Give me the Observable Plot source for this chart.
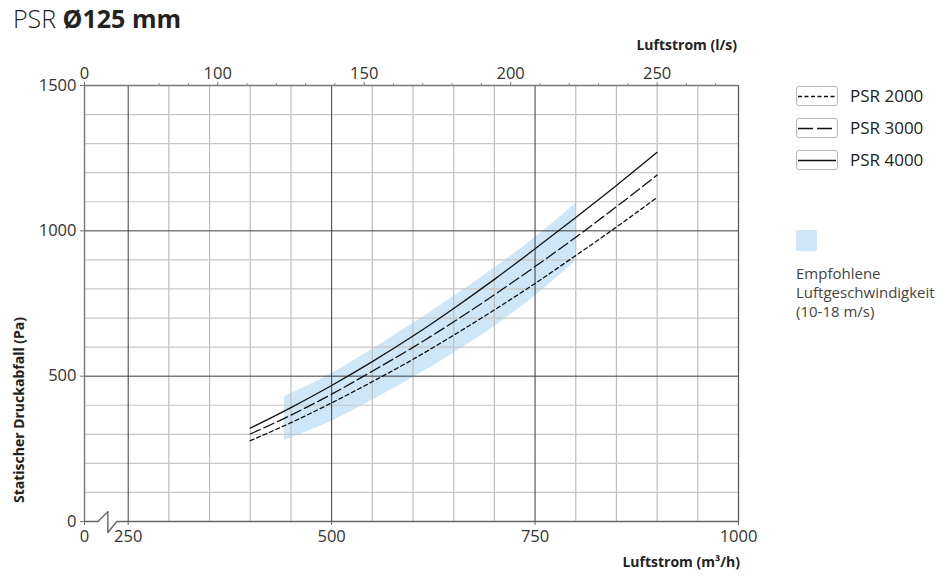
<!DOCTYPE html>
<html><head><meta charset="utf-8">
<script src="https://cdn.jsdelivr.net/npm/d3@7"></script>
<script src="https://cdn.jsdelivr.net/npm/@observablehq/plot@0.6"></script>
<style>
body{margin:0;background:#fff;font-family:"Open Sans",sans-serif;color:#222}
#wrap{position:relative;width:942px;height:587px;overflow:hidden;background:#fff}
#chart{position:absolute;left:0;top:0}
.abs{position:absolute;white-space:nowrap}
.bold{font-weight:700;font-size:14px;color:#222}
.lg{position:absolute;left:796px;width:42px;height:20px;border:1px solid #bbb;border-radius:3px;box-sizing:border-box;background:#fff}
.lgt{position:absolute;left:850px;font-size:17px;line-height:22px;color:#222}
</style></head><body>
<div id="wrap">
  <div id="chart"></div>
  <div class="abs" style="left:13px;top:0px;font-size:25px;line-height:36px;color:#222"><span style="font-weight:300">PSR </span><b>Ø125 mm</b></div>
  <div class="abs bold" style="right:205px;top:35px">Luftstrom (l/s)</div>
  <div class="abs bold" style="right:202px;top:552px">Luftstrom (m³/h)</div>
  <div class="abs bold" style="left:18px;top:410px;transform:translate(-50%,-50%) rotate(-90deg)">Statischer Druckabfall (Pa)</div>
  <div id="legend"></div>
  <div class="abs" style="left:796px;top:230px;width:21px;height:21px;background:#cde7f8;border-radius:2px"></div>
  <div class="abs" style="left:796px;top:264px;font-size:15px;line-height:19px;color:#444">Empfohlene<br>Luftgeschwindigkeit<br>(10-18 m/s)</div>
</div>
<script>
// ---- data ----
const flow = [400, 450, 500, 550, 600, 650, 700, 750, 800, 850, 900];
const psr2000 = [278, 340, 408, 481, 558, 641, 728, 819, 915, 1013, 1115];
const psr3000 = [301, 366, 438, 517, 599, 687, 780, 877, 978, 1083, 1192];
const psr4000 = [321, 392, 468, 550, 638, 733, 833, 938, 1046, 1156, 1270];
const seriesNames = ["PSR 2000", "PSR 3000", "PSR 4000"];

const bandFlow = [442, 500, 550, 600, 650, 700, 750, 800];
const bandLow  = [279, 345, 417, 495, 579, 671, 776, 896];
const bandHigh = [429, 509, 593, 681, 774, 872, 977, 1094];

const xStart = 196.3;              // position of the broken-axis "0"
const xTicksBottom = [250, 500, 750, 1000];
const yTicks = [0, 500, 1000, 1500];
const lsTicks = [0, 100, 150, 200, 250];
const lsMinor = [80, 90, 110, 120, 130, 140, 160, 170, 180, 190, 210, 220, 230, 240, 260, 270];
const gridXMinor = [300, 350, 400, 450, 550, 600, 650, 700, 800, 850, 900, 950];
const gridXMajor = [250, 500, 750];
const gridYMinor = [100, 200, 300, 400, 600, 700, 800, 900, 1100, 1200, 1300, 1400];
const gridYMajor = [500, 1000];
const breakX = [xStart, 213, 225, 225, 236, 1000];
const breakY = [0, 0, 34, -38, 0, 0];

// ---- styles ----
const dashes = {"PSR 2000": "4,3", "PSR 3000": "11,4", "PSR 4000": null};
const ink = "#111";

// ---- derived tables ----
const valuesBy = {"PSR 2000": psr2000, "PSR 3000": psr3000, "PSR 4000": psr4000};
const lineRows = seriesNames.map(n => flow.map((f, i) => ({flow: f, pa: valuesBy[n][i], series: n})));
const bandRows = bandFlow.map((f, i) => ({flow: f, low: bandLow[i], high: bandHigh[i]}));
const breakRows = breakX.map((x, i) => ({x, y: breakY[i]}));
const lsToM3h = v => v === 0 ? xStart : v * 3.6;
const lsPos = lsTicks.map(lsToM3h);
const lsLabel = new Map(lsTicks.map(v => [lsToM3h(v), String(v)]));
const bottomPos = [xStart, ...xTicksBottom];
const bottomLabel = new Map([[xStart, "0"], ...xTicksBottom.map(v => [v, String(v)])]);

const chart = Plot.plot({
  width: 942,
  height: 587,
  marginLeft: 84,
  marginRight: 204,
  marginTop: 85,
  marginBottom: 66,
  style: {fontFamily: "'Open Sans', sans-serif", color: "#333", background: "transparent", overflow: "visible"},
  x: {domain: [xStart, 1000]},
  y: {domain: [0, 1500]},
  marks: [
    Plot.areaY(bandRows, {x: "flow", y1: "low", y2: "high", fill: "#cde7f8", curve: "monotone-x"}),
    Plot.ruleX(gridXMinor, {stroke: "#bdbdbd", strokeWidth: 1.2}),
    Plot.ruleY(gridYMinor, {stroke: "#c6c6c6", strokeWidth: 1.2}),
    Plot.ruleX(gridXMajor, {stroke: "#3c3c3c", strokeWidth: 1}),
    Plot.ruleY(gridYMajor, {stroke: "#3c3c3c", strokeWidth: 1}),
    Plot.ruleX([1000], {stroke: "#555", strokeWidth: 1.2}),
    Plot.ruleX([xStart], {stroke: "#777", strokeWidth: 1.4}),
    Plot.ruleY([1500], {stroke: "#777", strokeWidth: 1.4}),
    Plot.line(breakRows, {x: "x", y: "y", stroke: "#666", strokeWidth: 1.4}),
    ...lineRows.map(rows => Plot.line(rows, {
      x: "flow", y: "pa", stroke: ink, strokeWidth: 1.3, curve: "monotone-x",
      strokeDasharray: dashes[rows[0].series]
    })),
    Plot.axisX(bottomPos, {anchor: "bottom", tickSize: 4, tickPadding: 5, stroke: "#666",
      tickFormat: d => bottomLabel.get(d), fontSize: 16.5, label: null}),
    Plot.axisX(lsPos, {anchor: "top", tickSize: 4, tickPadding: 3, stroke: "#777",
      tickFormat: d => lsLabel.get(d), fontSize: 16.5, label: null}),
    Plot.axisX(lsMinor.map(lsToM3h), {anchor: "top", tickSize: 3, stroke: "#888",
      tickFormat: () => "", label: null}),
    Plot.axisY(yTicks, {anchor: "left", tickSize: 4, tickPadding: 4, stroke: "#777",
      tickFormat: d => String(d), fontSize: 16.5, label: null})
  ]
});
document.getElementById("chart").appendChild(chart);

// legend
const legend = document.getElementById("legend");
const rowTop = [86, 118, 150];
seriesNames.forEach((n, i) => {
  const box = document.createElement("div");
  box.className = "lg";
  box.style.top = rowTop[i] + "px";
  box.innerHTML = `<svg width="40" height="18" style="position:absolute;left:0;top:0"><line x1="1" x2="39" y1="9.5" y2="9.5" stroke="${ink}" stroke-width="1.3" ${dashes[n] ? `stroke-dasharray="${n === "PSR 3000" ? "15,4" : "4,2.5"}"` : ""}/></svg>`;
  legend.appendChild(box);
  const t = document.createElement("div");
  t.className = "lgt";
  t.style.top = (rowTop[i] - 1) + "px";
  t.textContent = n;
  legend.appendChild(t);
});
</script>
</body></html>
